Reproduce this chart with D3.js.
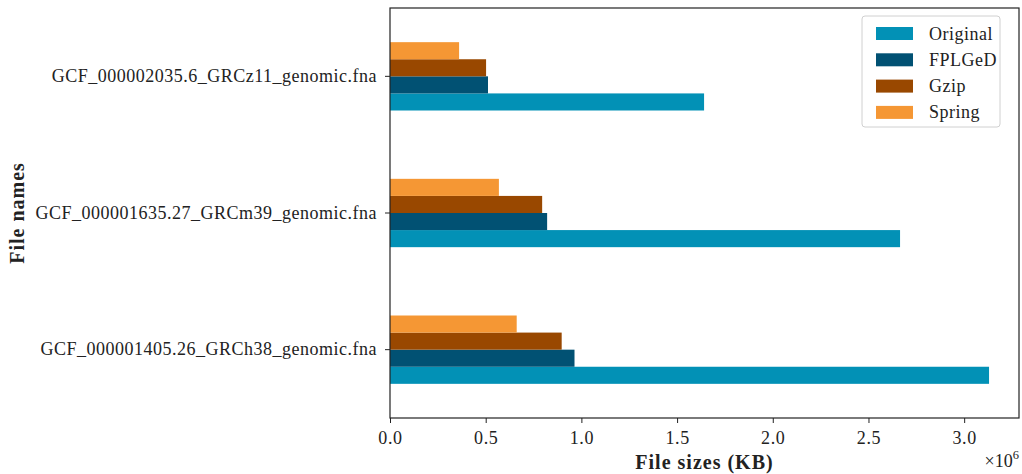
<!DOCTYPE html>
<html>
<head>
<meta charset="utf-8">
<script src="https://cdn.jsdelivr.net/npm/d3@7"></script>
<style>
  body { margin: 0; background: #fff; }
  svg text { font-family: "Liberation Serif", "DejaVu Serif", serif; fill: #222; }
  .axis path, .axis line { stroke: #222; }
</style>
</head>
<body>
<div id="chart"></div>
<script>
// data (values in millions of KB)
var files = [
  "GCF_000001405.26_GRCh38_genomic.fna",
  "GCF_000001635.27_GRCm39_genomic.fna",
  "GCF_000002035.6_GRCz11_genomic.fna"
];
var seriesNames = ["Original", "FPLGeD", "Gzip", "Spring"];
var original = [3.130, 2.665, 1.641];
var fplged   = [0.964, 0.821, 0.512];
var gzip     = [0.897, 0.795, 0.502];
var spring   = [0.662, 0.569, 0.361];
var colors = ["#0291b6", "#015173", "#994800", "#f59734"];
var xTicks = [0, 0.5, 1.0, 1.5, 2.0, 2.5, 3.0];

var seriesValues = [original, fplged, gzip, spring];

var W = 1022, H = 474;
var margin = {top: 8, right: 3, bottom: 56, left: 390},
    width = W - margin.left - margin.right,
    height = H - margin.top - margin.bottom;

var svg = d3.select("#chart")
  .append("svg")
  .attr("width", W)
  .attr("height", H);

var g = svg.append("g")
  .attr("transform", "translate(" + margin.left + "," + margin.top + ")");

// x scale with 5% margin like matplotlib
var maxValue = d3.max(original);
var x = d3.scaleLinear()
  .domain([0, maxValue * 1.05])
  .range([0, width]);

// y: first file at bottom
var y = d3.scaleBand()
  .domain(files.slice().reverse())
  .range([0, height])
  .paddingInner(0.5)
  .paddingOuter(0.25);

var ySub = d3.scaleBand()
  .domain(seriesNames.slice().reverse())
  .range([0, y.bandwidth()]);

// bars
seriesNames.forEach(function(name, si) {
  g.selectAll("rect.s" + si)
    .data(files)
    .enter()
    .append("rect")
      .attr("class", "s" + si)
      .attr("x", x(0))
      .attr("y", function(d) { return y(d) + ySub(name); })
      .attr("width", function(d, i) { return x(seriesValues[si][i]) - x(0); })
      .attr("height", ySub.bandwidth())
      .attr("fill", colors[si]);
});

// axes
var xAxis = g.append("g")
  .attr("class", "axis")
  .attr("transform", "translate(0," + height + ")")
  .call(d3.axisBottom(x).tickValues(xTicks).tickFormat(d3.format(".1f")).tickSizeOuter(0).tickSize(5).tickPadding(8));
xAxis.selectAll("text").style("font-size", "18px").style("letter-spacing", "0.6px").attr("fill", "#222");
xAxis.select(".domain").remove();

var yAxis = g.append("g")
  .attr("class", "axis")
  .call(d3.axisLeft(y).tickSizeOuter(0).tickSize(5).tickPadding(8));
yAxis.selectAll("text").style("font-size", "18px").style("letter-spacing", "0.5px").attr("fill", "#222");
yAxis.select(".domain").remove();

// frame
g.append("rect")
  .attr("x", 0).attr("y", 0)
  .attr("width", width).attr("height", height)
  .attr("fill", "none")
  .attr("stroke", "#222")
  .attr("stroke-width", 1.2);

// axis labels
svg.append("text")
  .attr("x", margin.left + width / 2)
  .attr("y", 469)
  .attr("text-anchor", "middle")
  .style("font-size", "20px")
  .style("letter-spacing", "1px")
  .style("font-weight", "bold")
  .text("File sizes (KB)");

svg.append("text")
  .attr("transform", "translate(24," + (margin.top + height / 2) + ") rotate(-90)")
  .attr("text-anchor", "middle")
  .style("font-size", "20px")
  .style("letter-spacing", "1px")
  .style("font-weight", "bold")
  .text("File names");

var mult = svg.append("text")
  .attr("x", 1019)
  .attr("y", 467)
  .attr("text-anchor", "end")
  .style("font-size", "18px");
mult.append("tspan").text("\u00d710");
mult.append("tspan").attr("dy", -8).style("font-size", "12.5px").text("6");

// legend
var legend = svg.append("g")
  .attr("transform", "translate(862,16)");

legend.append("rect")
  .attr("width", 138)
  .attr("height", 111)
  .attr("rx", 3)
  .attr("fill", "#fff")
  .attr("fill-opacity", 0.8)
  .attr("stroke", "#d0d0d0");

seriesNames.forEach(function(name, i) {
  legend.append("rect")
    .attr("x", 14)
    .attr("y", 11 + i * 26.3)
    .attr("width", 37)
    .attr("height", 13)
    .attr("fill", colors[i]);
  legend.append("text")
    .attr("x", 67)
    .attr("y", 23.5 + i * 26.3)
    .style("font-size", "18px")
    .style("letter-spacing", "0.5px")
    .text(name);
});
</script>
</body>
</html>
